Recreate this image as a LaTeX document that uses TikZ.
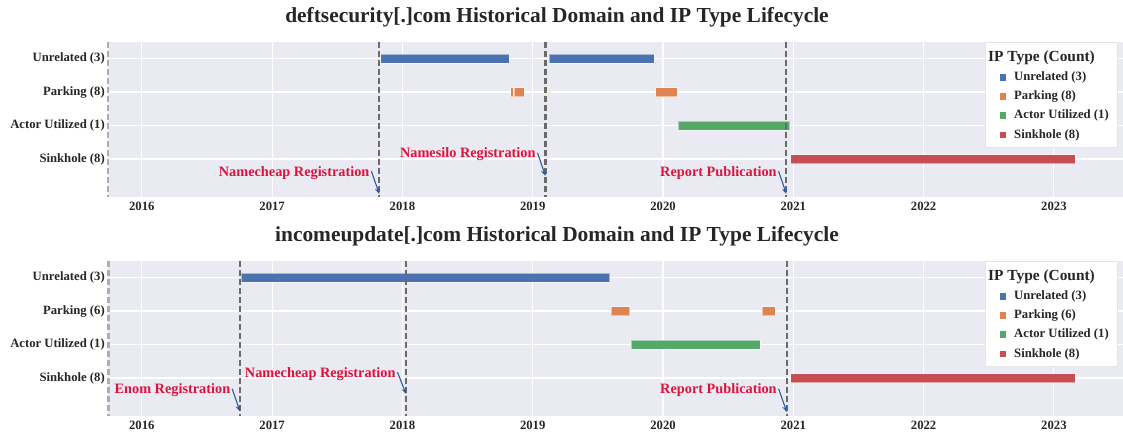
\documentclass[tikz,border=0pt]{standalone}
\usepackage{fontspec}
\setmainfont{Liberation Serif}
\usepackage{xcolor}
\usepackage{tikz}
\usetikzlibrary{arrows.meta}
\definecolor{sbblue}{HTML}{4C72B0}
\definecolor{sborange}{HTML}{DD8452}
\definecolor{sbgreen}{HTML}{55A868}
\definecolor{sbred}{HTML}{C44E52}
\definecolor{sbpanel}{HTML}{EAEAF2}
\definecolor{sbtext}{HTML}{262626}
\definecolor{notered}{HTML}{DC143C}
\definecolor{notearrow}{HTML}{2F5A9E}
\definecolor{vline}{HTML}{6B6B6B}

\begin{document}
\begin{tikzpicture}[x=1pt,y=-1pt,
  panel/.style={fill=sbpanel,draw=none},
  gridln/.style={white,line width=1.1pt},
  figtitle/.style={font=\fontsize{21.4}{24}\selectfont\bfseries,text=sbtext,inner sep=0pt},
  ticklab/.style={font=\fontsize{12.7}{14}\selectfont\bfseries,text=sbtext,inner sep=0pt},
  rowlab/.style={ticklab,anchor=east},
  regline/.style={vline,line width=2.2pt,dash pattern=on 6pt off 3pt},
  edgeline/.style={regline,vline!55},
  note/.style={font=\fontsize{14.3}{16}\selectfont\bfseries,text=notered,anchor=east,inner sep=0pt},
  pointer/.style={-{Stealth[length=6pt,width=5pt]},notearrow,line width=1.1pt},
  bar/.style={draw=white,draw opacity=.5,line width=.5pt},
  legbox/.style={fill=white,draw=black!10,line width=.4pt},
  legtitle/.style={font=\fontsize{15.4}{17}\selectfont\bfseries,text=sbtext,anchor=west,inner sep=0pt},
  legkey/.style={minimum size=6.8pt,inner sep=0pt},
  legtext/.style={ticklab,anchor=west}
]
\useasboundingbox (0,0) rectangle (1123,434);

% ---- deftsecurity panel ----
\node[figtitle] (ttitle) at (557,17) {deftsecurity[.]com Historical Domain and IP Type Lifecycle};
\fill[panel] (108,41.5) rectangle (1123,197);
\foreach \yr [count=\i from 0] in {2016,...,2023} {
  \draw[gridln] ({141.8+130.3*\i},41.5) -- ({141.8+130.3*\i},197);
  \node[ticklab] (tyr\yr) at ({141.8+130.3*\i},206.7) {\yr};
}
\foreach \y in {58.5,92,125.5,159} \draw[gridln] (108,\y) -- (1123,\y);

\node[rowlab] (tunrel) at (105,58.5) {Unrelated (3)};
\node[rowlab] (tpark) at (105,92) {Parking (8)};
\node[rowlab] (tactor) at (105,125.5) {Actor Utilized (1)};
\node[rowlab] (tsink) at (105,159) {Sinkhole (8)};

% bars
\fill[sbblue,bar] (380.5,54) rectangle (509,63);
\fill[sbblue,bar] (549,54) rectangle (654,63);
\fill[sborange,bar] (510.7,87.5) rectangle (513.2,96.5);
\fill[sborange,bar] (514,87.5) rectangle (524,96.5);
\fill[sborange!45,bar] (548.3,87.5) rectangle (549.7,96.5);
\fill[sborange,bar] (655.5,87.5) rectangle (677.3,96.5);
\fill[sbgreen,bar] (678,121) rectangle (789.5,130);
\fill[sbred,bar] (790.5,154.5) rectangle (1075,163.5);

% registration and report lines
\draw[edgeline] (108.3,41.5) -- (108.3,197);
\draw[regline] (379.3,41.5) -- (379.3,197);
\draw[regline] (545.4,41.5) -- (545.4,197);
\draw[regline] (786.3,41.5) -- (786.3,197);

\node[note] (tnamecheap) at (369.6,172.7) {Namecheap Registration};
\node[note] (tnamesilo) at (535.7,154.3) {Namesilo Registration};
\node[note] (treport) at (776.8,172.7) {Report Publication};
\coordinate (tnamecheap-tip) at (379.3,194);
\coordinate (tnamesilo-tip) at (545.4,176);
\coordinate (treport-tip) at (786.3,194);
\draw[pointer] ([xshift=1.8pt,yshift=1.5pt]tnamecheap.east) -- (tnamecheap-tip);
\draw[pointer] ([xshift=1.8pt,yshift=1.5pt]tnamesilo.east) -- (tnamesilo-tip);
\draw[pointer] ([xshift=1.8pt,yshift=1.5pt]treport.east) -- (treport-tip);

% legend
\fill[legbox] (985,41.7) rectangle (1117.5,146.7);
\node[legtitle] (tlegtitle) at (988,58.3) {IP Type (Count)};
\node[legkey,fill=sbblue] (tkeyu) at (1003,77.3) {};
\node[legkey,fill=sborange] (tkeyp) at (1003,96.3) {};
\node[legkey,fill=sbgreen] (tkeya) at (1003,115.3) {};
\node[legkey,fill=sbred] (tkeys) at (1003,135) {};
\node[legtext] at (1014,77.3) {Unrelated (3)};
\node[legtext] at (1014,96.3) {Parking (8)};
\node[legtext] at (1014,115.3) {Actor Utilized (1)};
\node[legtext] at (1014,135) {Sinkhole (8)};

% ---- incomeupdate panel ----
\begin{scope}[yshift=-219pt]
\node[figtitle] (btitle) at (557,17) {incomeupdate[.]com Historical Domain and IP Type Lifecycle};
\fill[panel] (108,41.5) rectangle (1123,197);
\foreach \yr [count=\i from 0] in {2016,...,2023} {
  \draw[gridln] ({141.8+130.3*\i},41.5) -- ({141.8+130.3*\i},197);
  \node[ticklab] (byr\yr) at ({141.8+130.3*\i},206.7) {\yr};
}
\foreach \y in {58.5,92,125.5,159} \draw[gridln] (108,\y) -- (1123,\y);

\node[rowlab] (bunrel) at (105,58.5) {Unrelated (3)};
\node[rowlab] (bpark) at (105,92) {Parking (6)};
\node[rowlab] (bactor) at (105,125.5) {Actor Utilized (1)};
\node[rowlab] (bsink) at (105,159) {Sinkhole (8)};

% bars
\fill[sbblue,bar] (241.4,54) rectangle (609.5,63);
\fill[sborange,bar] (611,87.5) rectangle (629.6,96.5);
\fill[sborange,bar] (761.8,87.5) rectangle (775,96.5);
\fill[sbgreen,bar] (631.4,121) rectangle (760,130);
\fill[sbred,bar] (790.5,154.5) rectangle (1075,163.5);

% registration and report lines
\draw[edgeline] (108.5,41.5) -- (108.5,197);
\draw[regline] (240,41.5) -- (240,197);
\draw[regline] (406,41.5) -- (406,197);
\draw[regline] (786.8,41.5) -- (786.8,197);

\node[note] (benom) at (230.4,171.3) {Enom Registration};
\node[note] (bnamecheap) at (395.7,154.7) {Namecheap Registration};
\node[note] (breport) at (776.8,171.3) {Report Publication};
\coordinate (benom-tip) at (240,192.5);
\coordinate (bnamecheap-tip) at (406,175);
\coordinate (breport-tip) at (786.8,193);
\draw[pointer] ([xshift=1.8pt,yshift=1.5pt]benom.east) -- (benom-tip);
\draw[pointer] ([xshift=1.8pt,yshift=1.5pt]bnamecheap.east) -- (bnamecheap-tip);
\draw[pointer] ([xshift=1.8pt,yshift=1.5pt]breport.east) -- (breport-tip);

% legend
\fill[legbox] (985,41.7) rectangle (1117.5,146.7);
\node[legtitle] (blegtitle) at (988,58.3) {IP Type (Count)};
\node[legkey,fill=sbblue] (bkeyu) at (1003,77.3) {};
\node[legkey,fill=sborange] (bkeyp) at (1003,96.3) {};
\node[legkey,fill=sbgreen] (bkeya) at (1003,115.3) {};
\node[legkey,fill=sbred] (bkeys) at (1003,135) {};
\node[legtext] at (1014,77.3) {Unrelated (3)};
\node[legtext] at (1014,96.3) {Parking (6)};
\node[legtext] at (1014,115.3) {Actor Utilized (1)};
\node[legtext] at (1014,135) {Sinkhole (8)};
\end{scope}
\end{tikzpicture}
\end{document}
